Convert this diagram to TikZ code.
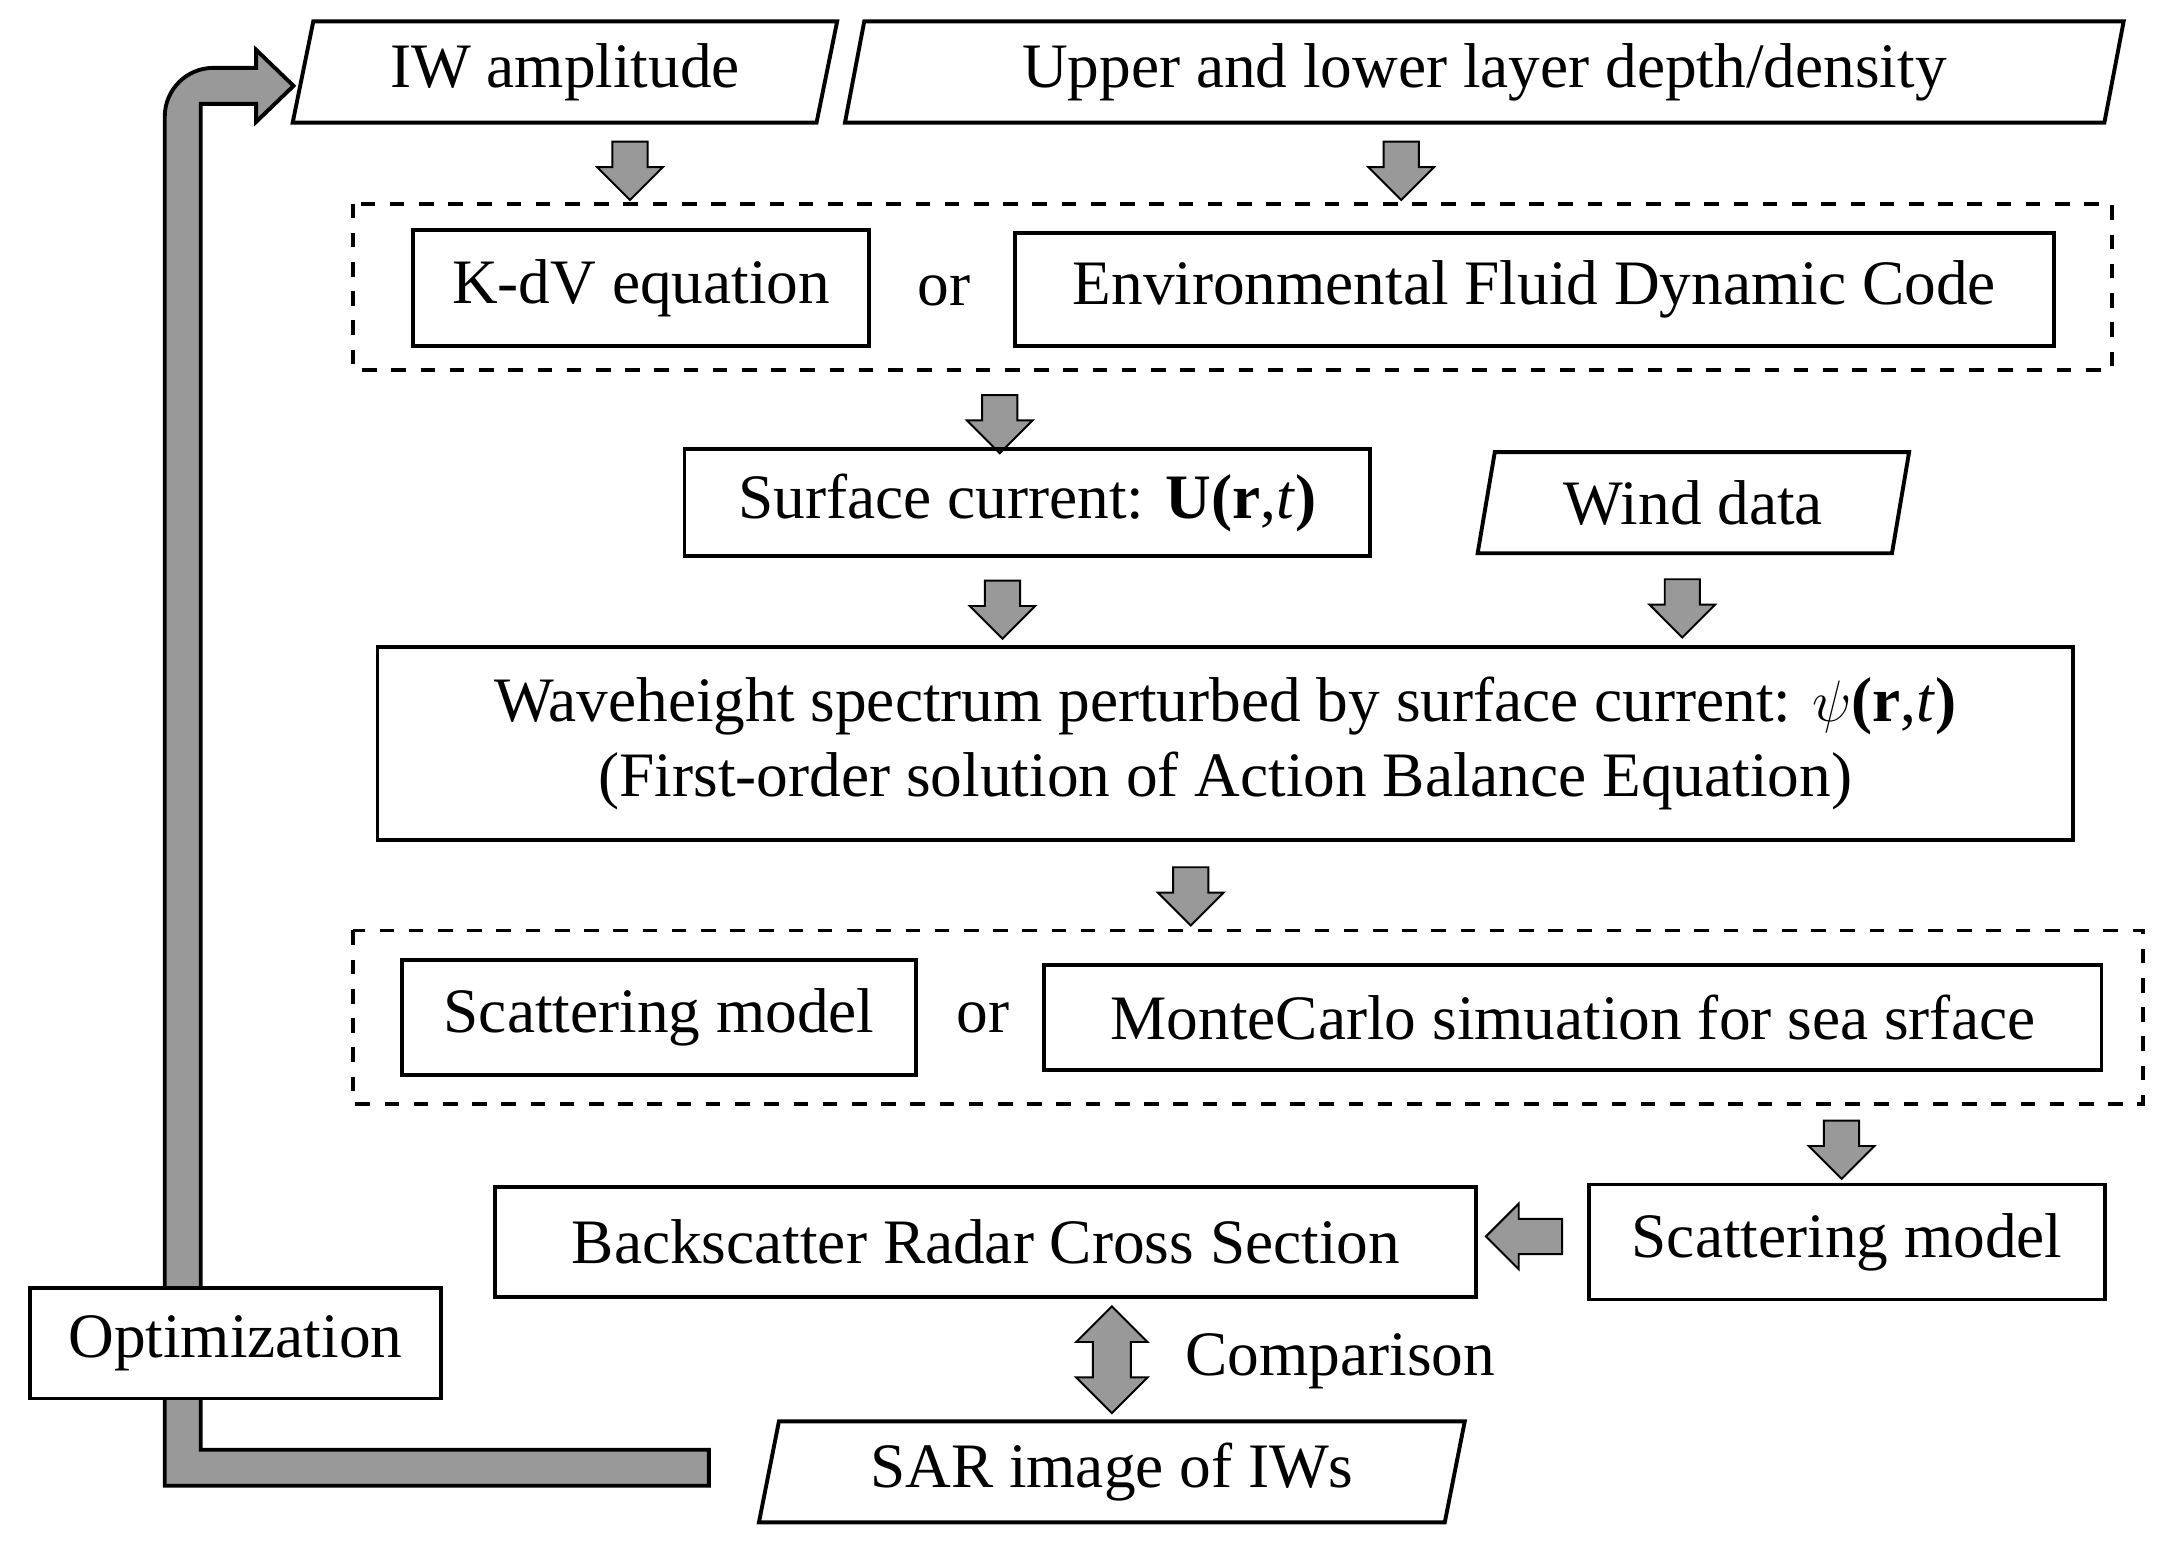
\documentclass[tikz,border=0pt]{standalone}
\usepackage{fontspec}
\setmainfont{Liberation Serif}
\usetikzlibrary{shapes.geometric, shapes.arrows, calc, positioning}

\begin{document}
\begin{tikzpicture}[x=0.01cm,y=-0.01cm,
	font=\fontsize{13}{15.5}\selectfont,
	box/.style={draw,thick,inner sep=0pt,align=center},
	data/.style={draw,thick,trapezium,trapezium left angle=76,trapezium right angle=104,trapezium stretches=true,inner sep=0pt},
	group/.style={draw,thick,dashed},
	down/.style={single arrow,draw,fill=gray!80,rotate=-90,minimum width=0.46cm,single arrow head extend=0.11cm,minimum height=0.42cm,inner xsep=0pt,inner ysep=0.12cm},
	left/.style={single arrow,draw,fill=gray!80,rotate=180,minimum width=0.46cm,single arrow head extend=0.11cm,minimum height=0.55cm,inner xsep=0pt,inner ysep=0.12cm}]
	\useasboundingbox (0,0) rectangle (1560,1117);
	% inputs
	\node[data, minimum width=3.95cm, minimum height=0.73cm] (amp) at (408,52) {IW amplitude};
	\node[data, minimum width=9.25cm, minimum height=0.73cm] (layer) at (1072,52) {Upper and lower layer depth/density};
	\node[down] (a1) at (455,117) {};
	\node[down] (a2) at (1012,117) {};
	% wave models
	\draw[group] (255,147) rectangle (1525,267);
	\node[box, minimum width=3.29cm, minimum height=0.84cm] (kdv) at (463,208) {K-dV equation};
	\node (or1) at (682,210) {or};
	\node[box, minimum width=7.5cm, minimum height=0.82cm] (efdc) at (1108,209) {Environmental Fluid Dynamic Code};
	\node[down] (a3) at (722,300) {};
	\node[box, minimum width=4.95cm, minimum height=0.77cm] (cur) at (742,363) {Surface current: \textbf{U(r},\textit{t}\textbf{)}};
	\node[data, minimum width=3.13cm, minimum height=0.73cm] (wind) at (1223,363) {Wind data};
	\node[down] (a4) at (724,434) {};
	\node[down] (a5) at (1215,433) {};
	\node[box, minimum width=12.24cm, minimum height=1.39cm] (wave) at (885,537)
		{Waveheight spectrum perturbed by surface current: $\psi$\textbf{(r},\textit{t}\textbf{)}\\(First-order solution of Action Balance Equation)};
	\node[down] (a6) at (860,641) {};
	% scattering
	\draw[group] (255,672) rectangle (1548,797);
	\node[box, minimum width=3.71cm, minimum height=0.83cm] (scat1) at (476,735) {Scattering model};
	\node (or2) at (710,735) {or};
	\node[box, minimum width=7.63cm, minimum height=0.76cm] (mc) at (1136,735) {MonteCarlo simuation for sea srface};
	\node[down] (a7) at (1330,824) {};
	\node[box, minimum width=3.72cm, minimum height=0.83cm] (scat2) at (1334,897) {Scattering model};
	\node[left] (a8) at (1107,893) {};
	\node[box, minimum width=7.08cm, minimum height=0.8cm] (rcs) at (712,897) {Backscatter Radar Cross Section};
	\node[double arrow,draw,fill=gray!80,rotate=90,minimum width=0.5cm,double arrow head extend=0.12cm,minimum height=0.77cm,inner xsep=0pt,inner ysep=0.13cm] (a9) at (803,982) {};
	\node (cmp) at (968,983) {Comparison};
	\node[data, minimum width=5.1cm, minimum height=0.73cm] (sar) at (803,1063) {SAR image of IWs};
	% feedback loop
	\draw[thick,fill=gray!80] (512,1047) -- (145,1047) -- (145,75) -- (185,75) -- (185,88) -- (212,62)
		-- (185,36) -- (185,49) [rounded corners=10pt] -- (119,49) [sharp corners] -- (119,1073) -- (512,1073) -- cycle;
	\node[box, fill=white, minimum width=2.97cm, minimum height=0.8cm] (opt) at (170,970) {Optimization};
\end{tikzpicture}
\end{document}
